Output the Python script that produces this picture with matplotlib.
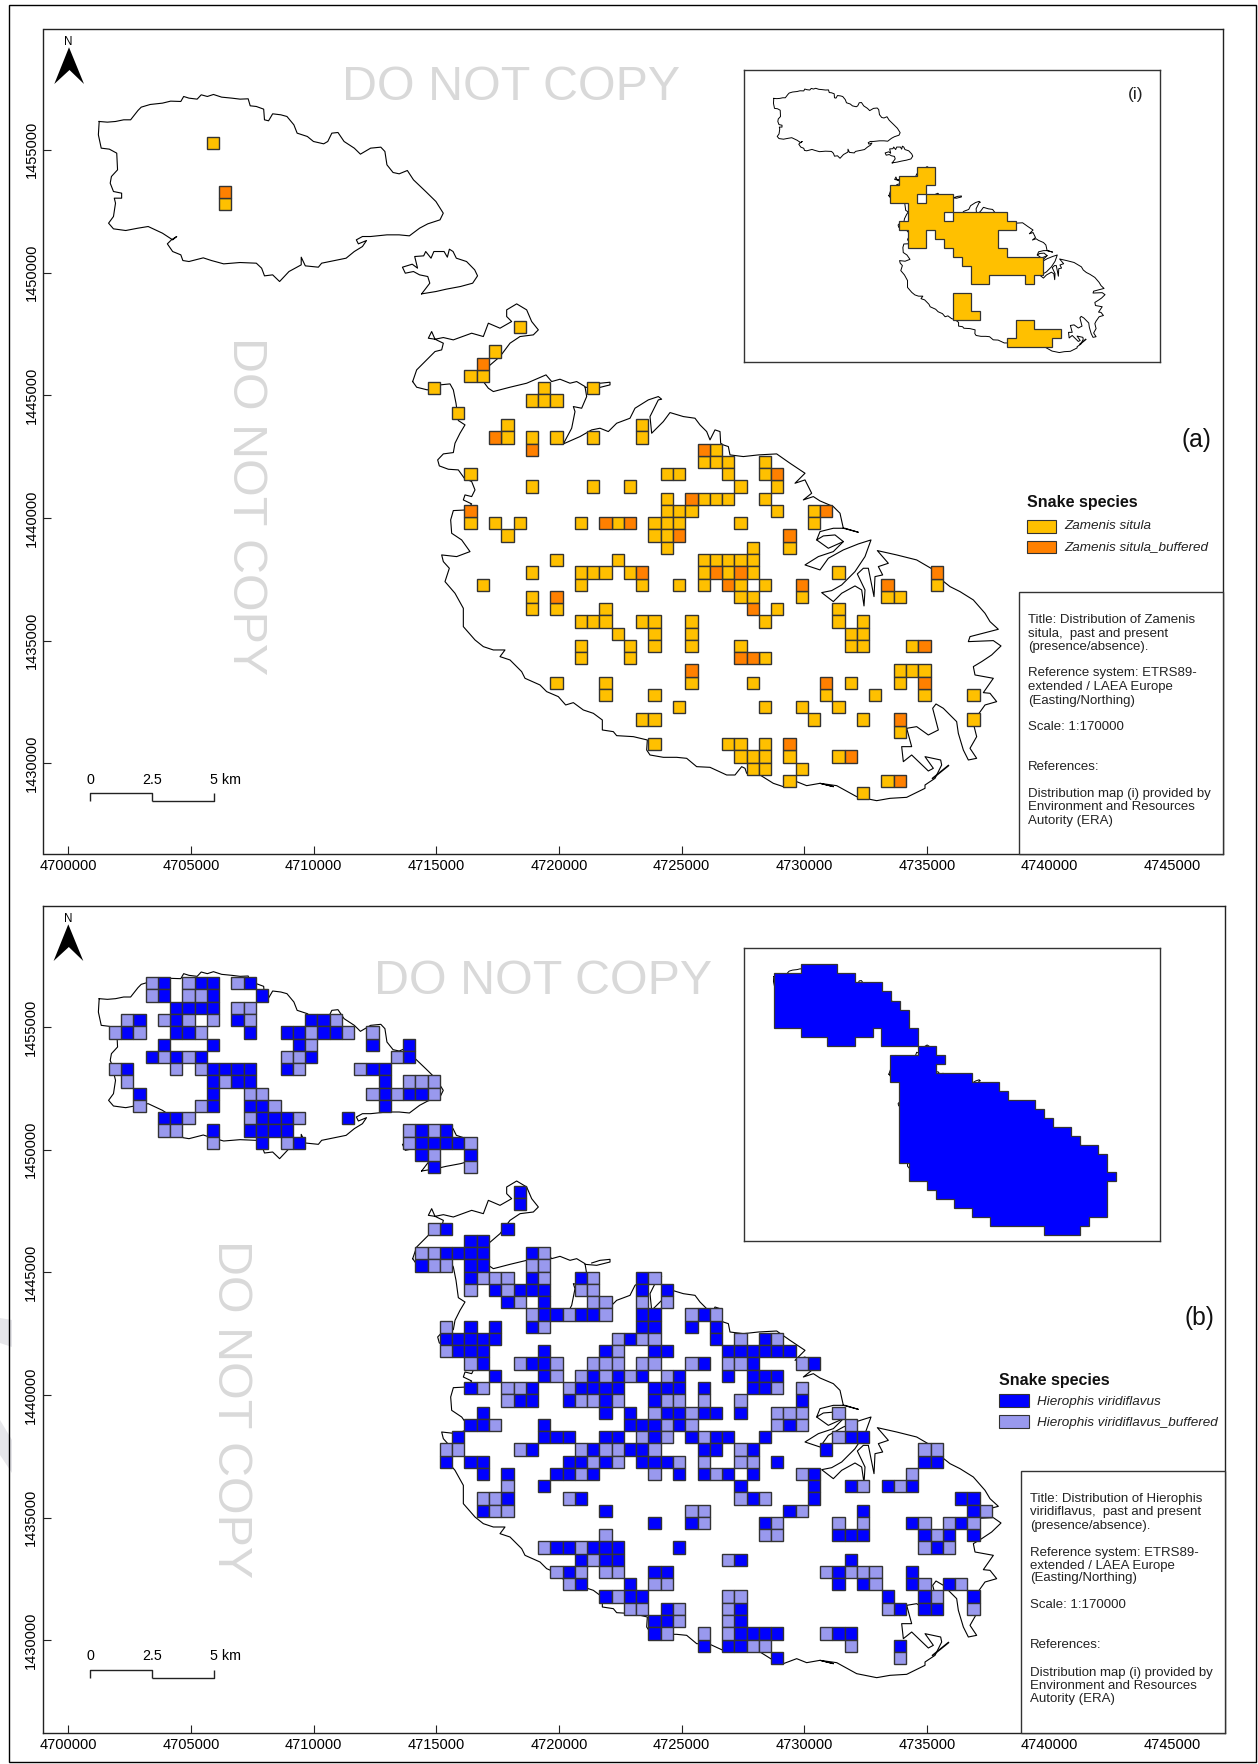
import matplotlib
matplotlib.use('Agg')
import matplotlib.pyplot as plt
from matplotlib.patches import Rectangle, Polygon

plt.rcParams['font.family'] = ['Liberation Sans', 'DejaVu Sans']

W = 1258
H = 1764

# calibration: 4700000 / 1430000 ticks and metres to pixels
X0 = 68.3
Y0 = 763.3
SCALE = 0.02453

# grid cells, row: columns (500 m cells, counted from E0 going east, N0 going south)
E0 = 4714651
N0 = 1448031
CELL = 500

zamenis = {-15: [-18], -10: [-17], 0: [7], 2: [5], 4: [3, 4], 5: [0, 9, 13], 6: [8, 9, 10], 7: [2], 8: [6, 17],
           9: [6, 8, 10, 13, 17], 10: [23], 11: [22, 23, 24, 27], 12: [3, 19, 20, 24, 27],
           13: [8, 13, 16, 25, 28], 14: [19, 22, 23, 24, 27], 15: [19, 20, 21, 28, 31],
           16: [3, 5, 7, 12, 15, 18, 19, 20, 25, 31], 17: [6, 18, 19], 18: [19, 26, 29],
           19: [10, 15, 22, 23, 24, 25, 26], 20: [8, 12, 13, 14, 16, 22, 24, 26, 33],
           21: [4, 12, 17, 20, 22, 25, 27, 41], 22: [8, 25, 26, 30, 37, 38], 23: [8, 10, 14, 28, 33],
           24: [12, 13, 14, 17, 18, 21, 27, 33, 35], 25: [15, 18, 21, 34, 35],
           26: [12, 16, 18, 21, 25, 34, 35, 39], 27: [12, 16, 27], 28: [38, 39, 40],
           29: [10, 14, 21, 26, 34, 38], 30: [14, 18, 32, 36, 40, 44], 31: [20, 27, 30, 33],
           32: [17, 18, 31, 35, 44], 33: [38], 34: [18, 24, 25, 27], 35: [25, 26, 27, 29, 33],
           36: [26, 27, 30], 37: [29, 37], 38: [35]}
zamenis_buffered = {-11: [-17], 3: [4], 9: [5], 10: [8, 22], 12: [28], 14: [21], 15: [3, 32], 16: [14, 16],
                    17: [20, 29], 20: [17, 23, 25, 41], 21: [24, 30, 37], 22: [10], 23: [26], 26: [40],
                    27: [25, 26], 28: [21], 29: [32, 40], 32: [38], 34: [29], 35: [34], 37: [38]}

hierophis = {-18: [-22, -19, -18, -15], -17: [-22, -18, -14], -16: [-21, -20, -19, -18],
             -15: [-24, -21, -16, -10, -9], -14: [-25, -21, -20, -15, -12, -11, -9, -8],
             -13: [-22, -18, -11, -5, -2], -12: [-23, -21, -19, -10, -2],
             -11: [-25, -18, -17, -16, -15, -12, -5, -4], -10: [-18, -16, -15, -4], -9: [-24, -18, -4, -2, -1],
             -8: [-18, -15, -14, -4], -7: [-22, -21, -14, -13, -12, -7],
             -6: [-18, -15, -14, -13, -12, -1, 1], -5: [-14, -11, -1, 0, 1, 2], -4: [-1, 3], -3: [0],
             -1: [7], 0: [7], 2: [1, 6], 3: [3, 4], 4: [1, 2, 3, 4, 8], 5: [-1, 3, 4], 6: [3, 8, 12, 17],
             7: [5, 7, 8, 9, 17, 19], 8: [6, 9], 9: [9, 10, 12, 13, 17, 18, 22], 10: [3, 5, 8, 17, 18, 21, 23],
             11: [1, 2, 3, 4, 5, 16, 23, 27], 12: [2, 3, 4, 9, 14, 18, 19, 24, 25, 26, 27, 28, 29],
             13: [4, 8, 9, 22, 26, 31], 14: [5, 9, 13, 15, 17, 20, 24, 26, 27, 28],
             15: [3, 8, 12, 13, 14, 15, 18, 19, 20, 22, 26, 27], 16: [7, 8, 11, 14, 18, 30],
             17: [4, 14, 16, 19, 20, 22, 23, 25], 18: [3, 4, 9, 16, 17, 18, 20, 29],
             19: [2, 9, 10, 11, 14, 15, 18, 21, 23, 24, 27, 34, 35], 20: [8, 13, 16, 17, 22, 23, 26, 32],
             21: [1, 3, 4, 11, 12, 14, 17, 18, 19, 28, 40, 41], 22: [4, 6, 10, 11, 13, 20, 22, 24, 26, 31],
             23: [9, 25, 31, 34, 37, 39], 24: [6, 12, 26, 31, 43, 44], 25: [4, 14, 29, 35, 44],
             26: [18, 21, 27, 39, 43], 27: [33, 34, 35, 40, 42, 44], 28: [10, 11, 13, 14, 15, 20, 41],
             29: [12, 14, 15, 25, 34], 30: [11, 18, 19, 33, 39], 31: [12, 16, 33, 35, 39, 42],
             32: [14, 16, 17, 37, 40, 44], 33: [19, 25, 38, 40, 41], 34: [18, 19, 25],
             35: [18, 25, 26, 27, 28, 33, 34], 36: [22, 24, 25, 38], 37: [28]}
hierophis_buffered = {-18: [-23, -20, -16], -17: [-23, -20, -19], -16: [-16, -15],
                      -15: [-25, -22, -20, -18, -15, -8], -14: [-26, -24, -19, -10, -7, -5], -13: [-10],
                      -12: [-22, -20, -12, -11, -3], -11: [-26, -21, -19, -11, -6], -10: [-25, -17, -2, -1, 0],
                      -9: [-15, -14, -5, -3, 0], -8: [-24, -19, -13], -7: [-20, -15, -11], -6: [-22, -21, -2, 0],
                      -5: [-18, -12, -2, 3], -4: [0], -3: [3], 2: [0], 4: [-1, 0, 9], 5: [0, 1, 8, 9],
                      6: [4, 5, 6, 9, 13, 18], 7: [3, 6, 12, 13], 8: [7, 13, 14, 17, 19], 9: [8, 11, 14, 21, 23],
                      10: [1, 9], 11: [15, 17, 18, 25, 28], 12: [1, 15],
                      13: [3, 7, 10, 13, 14, 15, 17, 18, 21, 24, 25, 30], 14: [10, 12, 14, 16, 19],
                      15: [4, 6, 7, 11, 28, 30], 16: [6, 12, 13, 15, 19, 20, 22, 25], 17: [18, 21, 28, 29, 30, 33],
                      18: [5, 19, 21, 28, 30, 34], 19: [17, 19, 22, 33], 20: [1, 2, 7, 12, 14, 15, 18, 25, 40, 41],
                      21: [13, 15, 20, 22, 25, 26], 22: [12, 18, 23, 30, 39], 23: [6, 35, 38],
                      24: [4, 5, 11, 25, 27], 25: [5, 6, 21, 22, 30, 45], 26: [22, 28, 33, 35, 40, 42, 44],
                      27: [14, 27, 28, 41], 28: [9, 12, 40, 42], 29: [13, 24], 30: [10, 12, 14, 15, 32, 34, 35, 36],
                      31: [11, 18, 19, 36, 40, 43], 32: [15, 24, 25, 41], 33: [16, 17, 20, 24, 37, 44], 34: [20, 24],
                      35: [19, 22, 24, 32], 36: [26, 27, 34], 37: [38]}

x_ticks = [4700000, 4705000, 4710000, 4715000, 4720000, 4725000, 4730000, 4735000, 4740000, 4745000]
y_ticks = [1430000, 1435000, 1440000, 1445000, 1450000, 1455000]

YELLOW = '#FFC000'
ORANGE = '#FF8000'
BLUE = '#0000FF'
LIGHT = '#9999EE'
EDGE = '#333333'
WATER = '#D9D9D9'

gozo_trace = [(145,305),(165,307),(185,305),(205,300),(222,300),(240,272),(248,262),(270,254),(300,250),(320,244),(345,245),(352,230),(365,235),(385,238),(395,225),(410,230),(425,224),(445,232),(470,235),(490,238),(510,237),(515,258),(530,260),(548,268),(550,300),(560,303),(570,282),(590,285),(605,290),(622,315),(630,340),(655,350),(670,365),(695,372),(705,365),(715,340),(730,338),(745,365),(770,385),(785,403),(810,385),(835,382),(845,395),(850,435),(865,458),(880,462),(900,452),(915,480),(945,515),(970,545),(988,580),(980,600),(950,612),(930,625),(905,648),(880,645),(850,645),(810,650),(790,650),(775,660),(780,672),(800,662),(790,680),(770,695),(750,715),(730,720),(690,730),(682,742),(650,738),(640,712),(640,735),(610,755),(587,785),(570,765),(550,768),(543,745),(530,730),(490,728),(450,732),(420,722),(400,714),(365,725),(350,722),(345,705),(325,695),(312,672),(322,660),(335,650),(325,660),(300,640),(265,620),(240,625),(210,632),(180,627),(168,610),(180,590),(185,550),(182,535),(200,535),(200,520),(180,515),(172,490),(175,470),(190,450),(188,400),(170,388),(150,385),(143,345),(145,305)]
comino_trace = [(935,822),(955,790),(950,770),(930,765),(915,755),(895,760),(888,742),(912,733),(925,745),(918,710),(940,708),(945,695),(958,715),(965,695),(990,695),(998,712),(1003,688),(1012,695),(1020,715),(1045,725),(1065,750),(1072,768),(1060,790),(1030,800),(995,808),(970,815),(935,822)]
malta_west = [(38,245),(50,262),(82,270),(120,255),(150,252),(160,270),(168,310),(175,362),(195,375),(180,400),(165,430),(160,458),(130,462),(113,480),(118,498),(145,508),(175,510),(193,535),(215,545),(225,570),(215,590),(195,585),(190,600),(215,612),(200,630),(160,632),(152,660)]
malta_south = [(95,40),(125,60),(150,95),(110,110),(65,105),(70,125),(88,145),(75,185),(105,220),(130,265),(130,320),(165,360),(190,380),(220,390),(255,390),(240,410),(270,420),(305,455),(315,475),(360,495),(380,515),(415,530),(437,555),(460,548),(490,570),(520,580),(547,600),(547,630),(580,635),(590,647),(640,650),(682,660),(680,690),(690,705),(730,712),(770,712),(800,715),(830,740),(870,742),(920,765),(945,765),(965,740),(975,745),(980,760),(1020,765),(1060,790),(1090,800),(1130,785),(1160,797),(1200,790),(1240,800)]
malta_east = [(60,1150),(110,1157),(170,1190),(230,1202),(270,1195),(320,1192),(375,1165),(375,1155),(405,1135),(425,1095),(422,1080),(375,1070),(400,1105),(385,1113),(335,1065),(310,1085),(305,1040),(335,1040),(320,985),(350,980),(385,1005),(415,990),(398,925),(408,912),(430,925),(470,965),(475,1000),(490,1050),(505,1080),(530,1075),(510,1045),(530,1010),(520,970),(530,950),(555,915),(590,905),(570,880),(550,878),(580,835),(525,825),(520,800),(545,785),(575,765),(603,738),(580,722),(505,725),(510,710),(595,688),(570,665),(555,640),(520,600),(480,575),(450,560),(425,540),(410,515),(350,480),(290,465),(232,452),(265,490),(235,500),(248,525),(225,530),(222,590),(205,505),(190,505),(172,522),(195,570),(192,618),(185,570),(165,558),(125,580),(100,605),(65,578),(95,572),(125,555),(165,515),(195,470),(213,420),(175,432),(130,450),(85,475),(60,510),(15,495),(55,470),(100,455),(130,425),(105,405),(70,408),(50,420),(60,395),(100,385),(135,385),(175,397),(130,385),(120,340),(100,320),(60,303)]
malta_north = [(1240,590),(1210,600),(1235,580),(1215,540),(1185,550),(1215,520),(1170,490),(1130,462),(1075,465),(1030,470),(990,465),(985,440),(970,435),(962,430),(960,395),(945,390),(930,420),(920,395),(900,375),(885,355),(850,350),(810,338),(790,365),(755,400),(750,350),(775,300),(785,298),(775,290),(745,300),(705,325),(690,355),(650,370),(625,395),(600,385),(575,390),(540,410),(490,432),(515,385),(525,335),(520,320),(545,325),(560,290),(555,260),(530,245),(510,250),(480,238),(455,245),(438,225),(380,250),(330,262),(280,275),(265,265),(250,245),(265,200),(300,170),(330,130),(360,110),(400,105),(415,90),(395,65),(380,30),(350,12),(320,30),(320,50),(335,65),(300,85),(265,70),(250,110),(215,100),(160,120),(130,113),(105,118),(85,115),(95,95),(105,118),(130,130),(125,150),(105,155),(75,185),(50,210),(38,245)]
manoel_trace = [(50,420),(85,445),(130,425)]
qawra_trace = [(555,262),(590,265),(630,255),(630,247),(600,250),(575,258)]
breakwater_trace = [(398,1135),(445,1097)]

# inset distribution blocks, enlarged px
yellow_main = [(590,352),(645,352),(645,406),(617,406),(617,433),(698,433),(698,487),(860,487),(860,514),(887,514),(887,541),(833,541),(833,595),(860,595),(860,622),(968,622),(968,676),(941,676),(941,703),(914,703),(914,676),(806,676),(806,703),(752,703),(752,649),(725,649),(725,622),(698,622),(698,595),(671,595),(671,568),(644,568),(644,541),(617,541),(617,595),(563,595),(563,541),(536,541),(536,514),(563,514),(563,460),(509,460),(509,406),(536,406),(536,379),(590,379)]
yellow_holes = [[(590,433),(617,433),(617,460),(590,460)], [(671,487),(698,487),(698,514),(671,514)]]
yellow_mid = [(698,730),(752,730),(752,784),(779,784),(779,811),(698,811)]
yellow_south = [(887,811),(941,811),(941,838),(1022,838),(1022,865),(995,865),(995,892),(860,892),(860,865),(887,865)]
blue_gozo = [(130,100),(211,100),(211,73),(320,73),(320,100),(374,100),(374,127),(455,127),(455,154),(482,154),(482,181),(509,181),(509,208),(536,208),(536,262),(563,262),(563,316),(454,316),(454,262),(428,262),(428,289),(374,289),(374,316),(292,316),(292,289),(211,289),(211,262),(130,262)]
blue_malta = [(563,316),(617,316),(617,343),(644,343),(644,370),(617,370),(617,397),(725,397),(725,424),(806,424),(806,451),(833,451),(833,478),(914,478),(914,505),(941,505),(941,532),(968,532),(968,559),(1022,559),(1022,586),(1049,586),(1049,613),(1103,613),(1103,640),(1130,640),(1130,694),(1157,694),(1157,721),(1130,721),(1130,829),(1076,829),(1076,856),(1049,856),(1049,883),(941,883),(941,856),(779,856),(779,829),(725,829),(725,802),(671,802),(671,775),(617,775),(617,748),(590,748),(590,721),(536,721),(536,667),(508,667),(508,424),(481,424),(481,343),(563,343)]

# inset map limits
inset_x = (4697900, 4744158)
inset_y = (1427481, 1459217)


def to_en(trace, ox, oy, sx=3.0, sy=3.0):
    return [(4700000 + (ox + x / sx - X0) / SCALE, 1430000 + (Y0 - (oy + y / sy)) / SCALE) for x, y in trace]


malta = (to_en(malta_west, 400, 300) + to_en(malta_south, 420, 520) + to_en(malta_east, 800, 400)
         + to_en(malta_north, 400, 300))
coast_parts = [to_en(gozo_trace, 40, 20, sx=2.45), to_en(comino_trace, 40, 20, sx=2.45), malta,
               to_en(manoel_trace, 800, 400), to_en(qawra_trace, 400, 300)]
breakwater = to_en(breakwater_trace, 800, 400)


def add_axes(left, top, right, bottom):
    return plt.gcf().add_axes([left / W, 1 - bottom / H, (right - left) / W, (bottom - top) / H])


def draw_coast(ax, lw=0.8):
    for part in coast_parts:
        ax.plot([p[0] for p in part], [p[1] for p in part], color='black', lw=lw, solid_joinstyle='round', zorder=2)
    ax.plot([p[0] for p in breakwater], [p[1] for p in breakwater], color='black', lw=lw * 1.5, zorder=2)


def draw_cells(ax, cells, colour):
    for row, cols in cells.items():
        for col in cols:
            ax.add_patch(Rectangle((E0 + col * CELL, N0 - (row + 1) * CELL), CELL, CELL, facecolor=colour,
                                   edgecolor=EDGE, lw=1.0, zorder=3))


def style_axes(ax, xlim, ylim):
    ax.set_xlim(xlim)
    ax.set_ylim(ylim)
    ax.set_xticks(x_ticks)
    ax.set_yticks(y_ticks)
    ax.set_xticklabels([str(v) for v in x_ticks], fontsize=10.5)
    ax.set_yticklabels([str(v) for v in y_ticks], fontsize=10.5, rotation=90, va='center')
    ax.tick_params(direction='in', length=5.8, width=0.8, color='#222222', pad=3.5)
    for s in ax.spines.values():
        s.set_linewidth(1.0)
        s.set_color('#222222')


def ftext(px, py, s, **kw):
    plt.gcf().text(px / W, 1 - py / H, s, **kw)


def fline(xs, ys, lw=1.0, color='#222222'):
    plt.gcf().add_artist(plt.Line2D([x / W for x in xs], [1 - y / H for y in ys], color=color, lw=lw,
                                    solid_capstyle='butt'))


def fpoly(pts, colour, zorder=1):
    plt.gcf().add_artist(Polygon([(x / W, 1 - y / H) for x, y in pts], closed=True, facecolor=colour,
                                 edgecolor='none', transform=plt.gcf().transFigure, zorder=zorder))


def north_arrow(dx, dy):
    fpoly([(69 + dx, 47.3 + dy), (84 + dx, 84 + dy), (69.5 + dx, 70 + dy), (54.3 + dx, 84 + dy)], 'black', zorder=6)
    ftext(68.6 + dx, 42 + dy, 'N', fontsize=8.4, ha='center', va='center', zorder=6)


def scale_bar(dy):
    fline([90, 90, 151.7, 151.7], [800.7 + dy, 792.7 + dy, 792.7 + dy, 800.7 + dy])
    fline([151.7, 213.7, 213.7], [800.7 + dy, 800.7 + dy, 792.7 + dy])
    ftext(90, 779.5 + dy, '0', fontsize=10.3, ha='center', va='center')
    ftext(151.7, 779.5 + dy, '2.5', fontsize=10.3, ha='center', va='center')
    ftext(210, 779.5 + dy, '5 km', fontsize=10.3, ha='left', va='center')


def info_box(left, top, right, bottom, text_x, ys, lines):
    plt.gcf().add_artist(Rectangle((left / W, 1 - bottom / H), (right - left) / W, (bottom - top) / H,
                                   facecolor='white', edgecolor='#333333', lw=1.0,
                                   transform=plt.gcf().transFigure, zorder=5))
    for y, line in zip(ys, lines):
        ftext(text_x, y, line, fontsize=9.55, ha='left', va='center', color='#222222', zorder=6)


def legend_block(x, title_y, patch_ys, text_x, text_ys, labels, colours):
    ftext(x, title_y, 'Snake species', fontsize=11.5, fontweight='bold', ha='left', va='center', color='#111111')
    for (y0, y1), colour in zip(patch_ys, colours):
        plt.gcf().add_artist(Rectangle((x / W, 1 - y1 / H), 29.7 / W, (y1 - y0) / H, facecolor=colour,
                                       edgecolor=EDGE, lw=0.8, transform=plt.gcf().transFigure))
    for y, label in zip(text_ys, labels):
        ftext(text_x, y, label, fontsize=9.7, fontstyle='italic', ha='left', va='center', color='#222222')


fig = plt.figure(figsize=(W / 100, H / 100), dpi=100, facecolor='white')

# faint marks left of the frame
fpoly([(0, 1318), (12, 1320), (12, 1347), (0, 1343)], '#E6E6EA', zorder=0)
fpoly([(0, 1420), (12, 1440), (12, 1473), (0, 1455)], '#E6E6EA', zorder=0)

# outer frame
fig.add_artist(Rectangle((8.5 / W, 1 - 1762 / H), 1247 / W, 1757 / H, facecolor='none', edgecolor='black', lw=1.0,
                         transform=fig.transFigure))

# map (a)
ax_a = add_axes(43.5, 29.3, 1223, 854)
draw_coast(ax_a)
draw_cells(ax_a, zamenis, YELLOW)
draw_cells(ax_a, zamenis_buffered, ORANGE)
style_axes(ax_a, (4698989, 4747073), (1426303, 1459914))

# map (b)
ax_b = add_axes(42.5, 906, 1225, 1732.7)
draw_coast(ax_b)
draw_cells(ax_b, hierophis, BLUE)
draw_cells(ax_b, hierophis_buffered, LIGHT)
style_axes(ax_b, (4698948, 4747154), (1426233, 1459935))

# insets
for top, bottom, polys, holes, colour, ox, oy in [
        (70.3, 361.7, [yellow_main, yellow_mid, yellow_south], yellow_holes, YELLOW, 720, 50),
        (948.3, 1240.7, [blue_gozo, blue_malta], [], BLUE, 730, 940 - 878)]:
    ax_i = add_axes(743.5, top, 1160.3, bottom)
    ax_i.set_xticks([])
    ax_i.set_yticks([])
    for s in ax_i.spines.values():
        s.set_linewidth(1.0)
        s.set_color('#333333')
    draw_coast(ax_i, lw=0.7)
    ax_i.set_xlim(inset_x)
    ax_i.set_ylim(inset_y)
    kx = (inset_x[1] - inset_x[0]) / (1160.3 - 743.3)
    ky = (inset_y[1] - inset_y[0]) / (361.7 - 70.3)
    for poly in polys:
        pts = [(inset_x[0] + (ox + x / 3 - 743.3) * kx, inset_y[1] - (oy + y / 3 - 70.3) * ky) for x, y in poly]
        ax_i.add_patch(Polygon(pts, closed=True, facecolor=colour, edgecolor=EDGE, lw=0.9, zorder=3))
    for poly in holes:
        pts = [(inset_x[0] + (ox + x / 3 - 743.3) * kx, inset_y[1] - (oy + y / 3 - 70.3) * ky) for x, y in poly]
        ax_i.add_patch(Polygon(pts, closed=True, facecolor='white', edgecolor=EDGE, lw=0.9, zorder=3))
ftext(1135.3, 95, '(i)', fontsize=12.5, ha='center', va='center', color='#222222', zorder=6)

# watermarks
ftext(511, 87, 'DO NOT COPY', fontsize=34.8, color=WATER, ha='center', va='center', zorder=1)
ftext(245, 506, 'DO NOT COPY', fontsize=34.8, color=WATER, ha='center', va='center', rotation=-90, zorder=1)
ftext(543, 981, 'DO NOT COPY', fontsize=34.8, color=WATER, ha='center', va='center', zorder=1)
ftext(230, 1409, 'DO NOT COPY', fontsize=34.8, color=WATER, ha='center', va='center', rotation=-90, zorder=1)

north_arrow(0, 0)
north_arrow(-0.7, 877)
scale_bar(0)
scale_bar(877)

ftext(1196.7, 440, '(a)', fontsize=17.7, ha='center', va='center', color='#111111')
ftext(1199, 1318, '(b)', fontsize=17.7, ha='center', va='center', color='#111111')

legend_block(1026.7, 502.3, [(520, 532.7), (541, 553.3)], 1064.3, [526.3, 547.3],
             ['Zamenis situla', 'Zamenis situla_buffered'], [YELLOW, ORANGE])
legend_block(999, 1380.3, [(1394.3, 1407), (1415.3, 1427.7)], 1037.3, [1401.7, 1422.7],
             ['Hierophis viridiflavus', 'Hierophis viridiflavus_buffered'], [BLUE, LIGHT])

info_box(1019.3, 592.3, 1223, 854, 1027.7,
         [620.3, 633.7, 647.3, 673.3, 687.3, 700.7, 727.3, 767.3, 793.7, 807.3, 820.7],
         ['Title: Distribution of Zamenis', 'situla,  past and present', '(presence/absence).',
          'Reference system: ETRS89-', 'extended / LAEA Europe', '(Easting/Northing)', 'Scale: 1:170000',
          'References:', 'Distribution map (i) provided by', 'Environment and Resources', 'Autority (ERA)'])
info_box(1020.7, 1470.7, 1225, 1732.7, 1030,
         [1498.7, 1512.3, 1525.7, 1552.7, 1565.7, 1578.3, 1605.3, 1645.3, 1672.7, 1685.7, 1699.3],
         ['Title: Distribution of Hierophis', 'viridiflavus,  past and present', '(presence/absence).',
          'Reference system: ETRS89-', 'extended / LAEA Europe', '(Easting/Northing)', 'Scale: 1:170000',
          'References:', 'Distribution map (i) provided by', 'Environment and Resources', 'Autority (ERA)'])

fig.savefig('out.png', dpi=100, facecolor='white')
